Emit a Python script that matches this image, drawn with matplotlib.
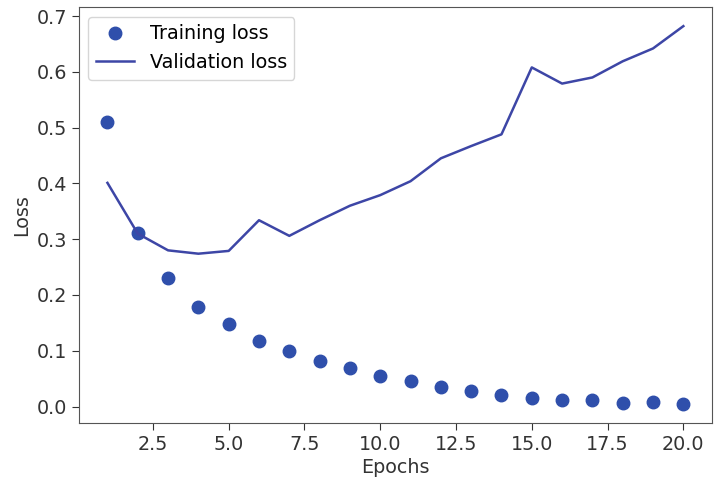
import matplotlib
matplotlib.use('Agg')
import matplotlib.pyplot as plt

# loss per epoch
epochs = list(range(1, 21))
train_loss = [0.510, 0.311, 0.231, 0.179, 0.148, 0.118, 0.100, 0.082, 0.069, 0.055,
              0.045, 0.035, 0.027, 0.021, 0.016, 0.011, 0.011, 0.006, 0.008, 0.004]
val_loss = [0.401, 0.310, 0.280, 0.274, 0.279, 0.334, 0.306, 0.334, 0.360, 0.379,
            0.404, 0.445, 0.467, 0.488, 0.608, 0.579, 0.590, 0.619, 0.642, 0.682]

plt.rcParams['font.family'] = 'DejaVu Sans'
plt.rcParams['font.size'] = 13.8

fig = plt.figure(figsize=(7.15, 4.82), dpi=100)
ax = fig.add_axes([0.110, 0.122, 0.886, 0.863])

ax.plot(epochs, train_loss, 'o', color='#2f4fab', markersize=9, label='Training loss')
ax.plot(epochs, val_loss, '-', color='#3d46a6', linewidth=1.8, label='Validation loss')

ax.set_xlabel('Epochs', color='#333333', labelpad=3)
ax.set_ylabel('Loss', color='#333333')
ax.tick_params(colors='#333333', labelsize=13.8, length=5)
for s in ax.spines.values():
    s.set_color('#555555')
ax.legend(loc='upper left', fontsize=13.8, framealpha=0.8, edgecolor='#cccccc',
          borderaxespad=0.5)

fig.savefig('out.png', dpi=100)
